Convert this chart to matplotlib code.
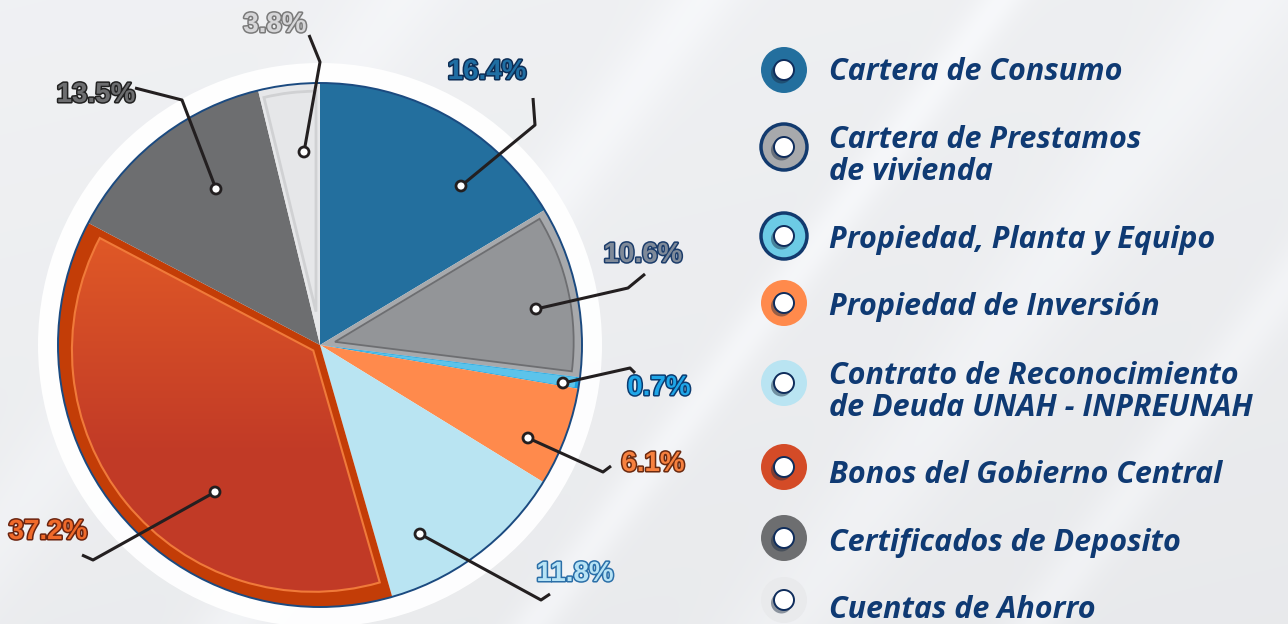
import numpy as np
import matplotlib
matplotlib.use("Agg")
import matplotlib.pyplot as plt
from matplotlib.patches import Circle, Wedge
import matplotlib.patheffects as pe

# ---------------- data ----------------
categories = ["Cartera de Consumo",
              "Cartera de Prestamos\nde vivienda",
              "Propiedad, Planta y Equipo",
              "Propiedad de Inversión",
              "Contrato de Reconocimiento\nde Deuda UNAH - INPREUNAH",
              "Bonos del Gobierno Central",
              "Certificados de Deposito",
              "Cuentas de Ahorro"]
values = [16.4, 10.6, 0.7, 6.1, 11.8, 37.2, 13.5, 3.8]
pct_labels = ["16.4%", "10.6%", "0.7%", "6.1%", "11.8%", "37.2%", "13.5%", "3.8%"]

# ---------------- styles ----------------
slice_colors = ["#236f9e", "#a7a9ac", "#1ea3e0", "#ff8a4c", "#b9e4f2", "#c33d07", "#6d6e70", "#e6e7e9"]
legend_colors = ["#236f9e", "#a7a9ac", "#6ccbe5", "#ff8a4c", "#b9e4f2", "#d44b27", "#6d6e70", "#e9eaec"]
legend_edges = [None, "#123a6e", "#123a6e", None, None, None, None, None]
label_fill = ["#1f6ea3", "#7f8a99", "#1ea6e8", "#f7813f", "#b7e3f5", "#f06a2a", "#6d6e70", "#d6d6d8"]
label_stroke = ["#0d2d55", "#1c3d6b", "#0b3b70", "#6b2a10", "#2b6fa8", "#6b2410", "#222222", "#7a7a7a"]
navy = "#0f3a73"

W, H = 1288, 624
def Y(y):
    return H - y

# label layout (pixel coords, y from top)
label_pos = [(487, 72), (643, 255), (659, 388), (653, 464), (575, 574), (48, 532), (96, 95), (275, 25)]
leaders = [
    [(461, 186), (535, 125), (533, 98)],
    [(536, 309), (628, 288), (645, 274)],
    [(563, 383), (630, 368), (635, 373)],
    [(528, 438), (603, 472), (611, 466)],
    [(420, 534), (541, 600), (550, 594)],
    [(215, 492), (93, 560), (82, 555)],
    [(216, 189), (182, 100), (135, 88)],
    [(304, 152), (320, 62), (309, 35)],
]
legend_circle_y = [70, 147, 236, 303, 383, 467, 538, 600]
legend_text_y = [72, 156, 240, 307, 392, 475, 543, 610]

CX, CY, R = 320, Y(345), 262

fig = plt.figure(figsize=(W / 100, H / 100), dpi=100)
ax = fig.add_axes([0, 0, 1, 1])

# ---------------- background ----------------
xx, yy = np.meshgrid(np.arange(W), np.arange(H))
bg = 0.955 - 0.02 * (yy / H) - 0.01 * (xx / W)
s = (xx + 0.75 * yy)
for c, w, a in [(700, 40, 0.03), (1000, 25, 0.035), (1250, 60, 0.025), (1500, 30, 0.03), (400, 50, 0.02)]:
    bg += a * np.exp(-((s - c) / w) ** 2)
bg = np.clip(bg, 0, 1)
rgb = np.dstack([bg * 0.985, bg * 0.99, bg])
ax.imshow(rgb, extent=[0, W, 0, H], origin="upper", zorder=0, aspect="auto")

# white halo
ax.add_patch(Circle((CX, CY), 282, facecolor="white", edgecolor="none", zorder=1, alpha=0.95))

# ---------------- pie ----------------
wedges, _ = ax.pie(values, colors=slice_colors, startangle=90, counterclock=False,
                   center=(CX, CY), radius=R, frame=True,
                   wedgeprops=dict(edgecolor="none", linewidth=0))
for w in wedges:
    w.set_zorder(2)

# outer rim
ax.add_patch(Circle((CX, CY), R, facecolor="none", edgecolor="#1b4a80", lw=1.4, zorder=6))

def inset_wedge(w, d, r_in, **kw):
    t1, t2 = w.theta1, w.theta2
    half = np.radians((t2 - t1) / 2)
    mid = np.radians((t1 + t2) / 2)
    shift = d / np.sin(half)
    cx = CX + shift * np.cos(mid)
    cy = CY + shift * np.sin(mid)
    r = r_in - shift
    return Wedge((cx, cy), r, t1, t2, **kw)

# red slice: inner gradient
red = wedges[5]
ax.add_patch(inset_wedge(red, 8, R - 12, facecolor="none", edgecolor="#f07a3a", lw=1.5, zorder=4))
grad = np.linspace(0, 1, 256)[:, None]
top = np.array([0.89, 0.36, 0.15])
bot = np.array([0.76, 0.23, 0.15])
frac = np.clip((grad - 0.25) / 0.45, 0, 1)[:, :, None]
gcol = top[None, None, :] * (1 - frac) + bot[None, None, :] * frac
gcol = np.repeat(gcol, 2, axis=1)
im = ax.imshow(gcol, extent=[CX - R, CX + R, CY - R, CY + R], origin="upper", zorder=3, aspect="auto")
clipw = inset_wedge(red, 8, R - 12, facecolor="none", edgecolor="none", transform=ax.transData)
ax.add_patch(clipw)
im.set_clip_path(clipw)

# gray 10.6 slice inner
ax.add_patch(inset_wedge(wedges[1], 5, R - 8, facecolor="#939598", edgecolor="#6d6e71", lw=1.3, zorder=3))
# light gray 3.8 slice inner outline
ax.add_patch(inset_wedge(wedges[7], 4, R - 8, facecolor="#e6e7e9", edgecolor="#d0d1d3", lw=2, zorder=3))
# bright blue sliver inner
ax.add_patch(inset_wedge(wedges[2], 0.6, R - 4, facecolor="#5cc3ea", edgecolor="none", zorder=3))

# ---------------- labels + leaders ----------------
for i, lab in enumerate(pct_labels):
    pts = leaders[i]
    xs = [p[0] for p in pts]
    ys = [Y(p[1]) for p in pts]
    ax.plot(xs, ys, color="#231f20", lw=2.2, zorder=7, solid_capstyle="butt")
    ax.add_patch(Circle((xs[0], ys[0]), 5, facecolor="white", edgecolor="#231f20", lw=2, zorder=8))
    lx, ly = label_pos[i]
    t = ax.text(lx, Y(ly), lab, ha="center", va="center", fontsize=20, fontweight="bold",
                family="Liberation Sans", color=label_fill[i], zorder=9)
    t.set_path_effects([pe.Stroke(linewidth=2.2, foreground=label_stroke[i]), pe.Normal()])

# ---------------- legend ----------------
LX = 784
for i, cat in enumerate(categories):
    cy = Y(legend_circle_y[i])
    ec = legend_edges[i]
    ax.add_patch(Circle((LX, cy), 23, facecolor=legend_colors[i],
                        edgecolor=ec if ec else "none", lw=2.5 if ec else 0, zorder=5))
    ax.add_patch(Circle((LX - 2.5, cy - 3), 10.5, facecolor="#1a2a40", edgecolor="none", alpha=0.45, zorder=6))
    ax.add_patch(Circle((LX, cy), 10, facecolor="white", edgecolor="#0f2d5c", lw=1.4, zorder=7))
    ax.text(829, Y(legend_text_y[i]), cat, ha="left", va="center", fontsize=22,
            fontweight="bold", fontstyle="italic", family="Open Sans", color=navy,
            linespacing=1.12, zorder=7)

ax.set_xlim(0, W)
ax.set_ylim(0, H)
ax.set_aspect("auto")
ax.axis("off")
fig.savefig("out.png", dpi=100)
